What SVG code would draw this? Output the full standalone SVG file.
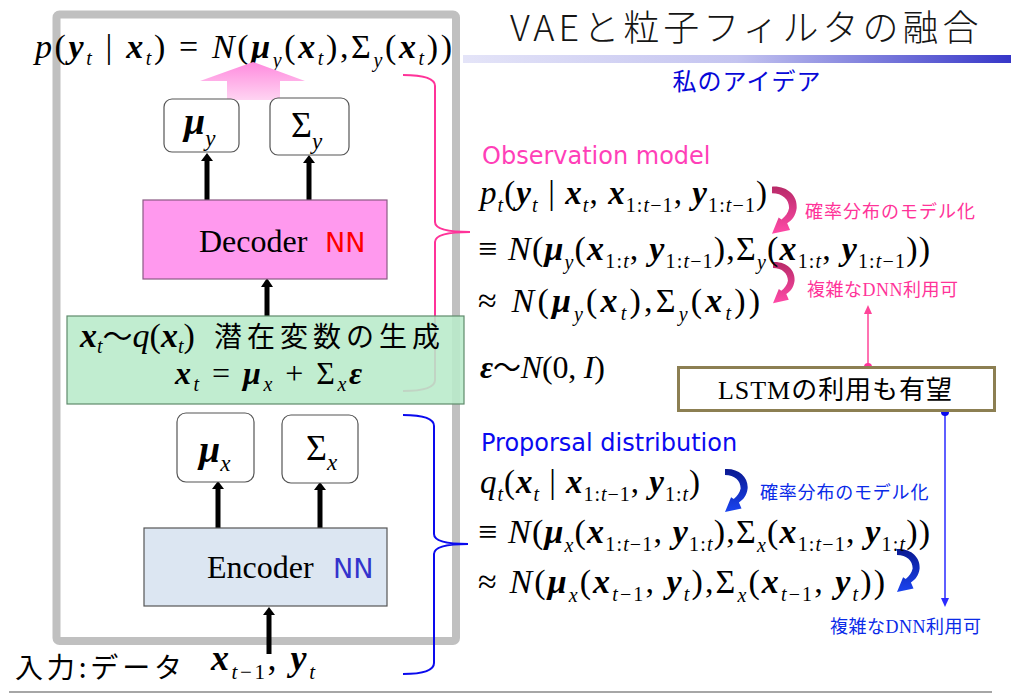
<svg xmlns="http://www.w3.org/2000/svg" width="1011" height="693" viewBox="0 0 1011 693">
<style>
.m{font-family:"Liberation Serif","Noto Sans CJK JP",serif;font-size:34px;fill:#000}
.bi{font-weight:bold;font-style:italic}
.i{font-style:italic}
.s{font-size:20px}
.jp{font-family:"Noto Sans CJK JP","Liberation Sans",sans-serif}
.lat{font-family:"DejaVu Sans","Liberation Sans",sans-serif}
.sq{fill:#fff;stroke:#555;stroke-width:1.2}
.blk{stroke:#000;stroke-width:5}
.brace{fill:none;stroke-width:2}
</style>
<defs>
<linearGradient id="bar" x1="0" y1="0" x2="1" y2="0">
<stop offset="0" stop-color="#e4e4f8"/><stop offset="0.5" stop-color="#c4c4f0"/><stop offset="1" stop-color="#3636c8"/>
</linearGradient>
<linearGradient id="bigarrow" x1="0" y1="0" x2="0" y2="1">
<stop offset="0" stop-color="#ff8ade"/><stop offset="1" stop-color="#ffd4f2"/>
</linearGradient>
<linearGradient id="pg" x1="0" y1="0" x2="0" y2="1">
<stop offset="0" stop-color="#b82a68"/><stop offset="1" stop-color="#ff4aa8"/>
</linearGradient>
<linearGradient id="bg" x1="0" y1="0" x2="0" y2="1">
<stop offset="0" stop-color="#0a1890"/><stop offset="1" stop-color="#1a44f0"/>
</linearGradient>
<path id="carrow" d="M0,-3.5 C16,-4.5 27,6 26,19 C25,27 21,32 16,35 L19,42 L0,46 L7,29 L10,31 C14,28 17,24 18,19 C18,10 11,3.5 0,3.5 Z"/>
</defs>

<!-- title -->
<g id="title">
<text x="510" y="41" class="jp" style="font-size:36px;font-weight:300;fill:#151515" letter-spacing="4">VAEと粒子フィルタの融合</text>
<rect x="463" y="55" width="548" height="8" fill="url(#bar)"/>
<text x="747" y="90" class="jp" style="font-size:24px;fill:#0808d8" text-anchor="middle" letter-spacing="1">私のアイデア</text>
</g>

<!-- outer frame -->
<rect id="frame" x="56.5" y="14.5" width="399.5" height="626.5" rx="3" fill="none" stroke="#c0c0c0" stroke-width="8"/>

<g id="topformula">
<text class="m" x="35" y="58" textLength="417" lengthAdjust="spacing"><tspan class="i">p</tspan>(<tspan class="bi">y</tspan><tspan class="s i" dy="7">t</tspan><tspan dy="-7"> | </tspan><tspan class="bi">x</tspan><tspan class="s i" dy="7">t</tspan><tspan dy="-7">) = </tspan><tspan class="i">N</tspan>(<tspan class="bi">μ</tspan><tspan class="s i" dy="9">y</tspan><tspan dy="-9">(</tspan><tspan class="bi">x</tspan><tspan class="s i" dy="7">t</tspan><tspan dy="-7">),Σ</tspan><tspan class="s i" dy="9">y</tspan><tspan dy="-9">(</tspan><tspan class="bi">x</tspan><tspan class="s i" dy="7">t</tspan><tspan dy="-7">))</tspan></text>
<polygon points="253,62 305,81 280,81 280,100 227,100 227,81 200,81" fill="url(#bigarrow)"/>
</g>

<!-- connectors -->
<g id="connectors">
<line class="blk" x1="207" y1="200" x2="207" y2="160"/><polygon points="207,153 201,161 213,161"/>
<line class="blk" x1="309" y1="200" x2="309" y2="162"/><polygon points="309,155 303,163 315,163"/>
<line class="blk" x1="267" y1="316" x2="267" y2="286"/><polygon points="267,278 261,287 273,287"/>
<line class="blk" x1="218" y1="528" x2="218" y2="488"/><polygon points="218,481 212,489 224,489"/>
<line class="blk" x1="320" y1="528" x2="320" y2="489"/><polygon points="320,482 314,490 326,490"/>
<line class="blk" x1="269" y1="654" x2="269" y2="614"/><polygon points="269,607 263,615 275,615"/>
<path class="brace" stroke="#ff3399" d="M403,75 Q435,75 435,86 L435,222 Q435,232 470,232 Q435,232 435,242 L435,380 Q435,391 403,391"/>
<path class="brace" stroke="#0a0aee" d="M403,415 Q434,415 434,426 L434,534 Q434,544 468,544 Q434,544 434,554 L434,663 Q434,674 403,674"/>
<line x1="868" y1="367" x2="868" y2="312" stroke="#ff4499" stroke-width="1.5"/>
<polygon points="868,305 864,314 872,314" fill="#ff4499"/>
<circle cx="868" cy="367" r="4" fill="#ff3399"/>
<line x1="945" y1="412" x2="945" y2="600" stroke="#2a2aff" stroke-width="1.5"/>
<polygon points="945,607 941,598 949,598" fill="#2a2aff"/>
<circle cx="945" cy="412" r="4" fill="#0a0aee"/>
<use href="#carrow" transform="translate(772,190) scale(0.95)" fill="url(#pg)"/>
<use href="#carrow" transform="translate(773,265) scale(0.83)" fill="url(#pg)"/>
<use href="#carrow" transform="translate(725,472) scale(0.87)" fill="url(#bg)"/>
<use href="#carrow" transform="translate(897,552) scale(0.87)" fill="url(#bg)"/>
</g>

<!-- nodes -->
<g id="mu_y">
<rect class="sq" x="164" y="99" width="75" height="53" rx="8"/>
<text class="m" x="184" y="134" style="font-size:38px"><tspan class="bi">μ</tspan><tspan class="i" style="font-size:23px" dy="12">y</tspan></text>
</g>
<g id="sigma_y">
<rect class="sq" x="270" y="98" width="79" height="57" rx="8"/>
<text class="m" x="291" y="137" style="font-size:36px">Σ<tspan class="i" style="font-size:23px" dy="12">y</tspan></text>
</g>
<g id="decoder">
<rect x="143" y="200" width="244" height="79" fill="#ff99ee" stroke="#8a5a84" stroke-width="1.2"/>
<text class="m" x="199" y="252" style="font-size:32px">Decoder</text>
<text class="lat" x="325" y="252" style="font-size:27px;fill:#ff0000">NN</text>
</g>
<g id="latent">
<rect x="67" y="316" width="397" height="88" fill="#b8ebca" fill-opacity="0.88" stroke="#5f8a6c" stroke-width="1.2"/>
<text class="m" x="80" y="347"><tspan class="bi">x</tspan><tspan class="i" style="font-size:20px" dy="6">t</tspan><tspan dy="-6" class="jp" style="font-size:30px">〜</tspan><tspan class="i">q</tspan>(<tspan class="bi">x</tspan><tspan class="i" style="font-size:20px" dy="6">t</tspan><tspan dy="-6">)</tspan><tspan x="214" class="jp" style="font-size:28px" letter-spacing="5">潜在変数の生成</tspan></text>
<text class="m" x="175" y="384" style="font-size:32px" textLength="187" lengthAdjust="spacing"><tspan class="bi">x</tspan><tspan class="s i" dy="7">t</tspan><tspan dy="-7"> = </tspan><tspan class="bi">μ</tspan><tspan class="s i" dy="7">x</tspan><tspan dy="-7"> + Σ</tspan><tspan class="s i" dy="7">x</tspan><tspan dy="-7" class="bi">ε</tspan></text>
</g>
<g id="mu_x">
<rect class="sq" x="177" y="413" width="77" height="69" rx="9"/>
<text class="m" x="199" y="462" style="font-size:38px"><tspan class="bi">μ</tspan><tspan class="i" style="font-size:23px" dy="9">x</tspan></text>
</g>
<g id="sigma_x">
<rect class="sq" x="282" y="415" width="76" height="68" rx="9"/>
<text class="m" x="306" y="460" style="font-size:36px">Σ<tspan class="i" style="font-size:23px" dy="10">x</tspan></text>
</g>
<g id="encoder">
<rect x="144" y="528" width="243" height="78" fill="#dce6f2" stroke="#555" stroke-width="1.2"/>
<text class="m" x="207" y="578" style="font-size:32px">Encoder</text>
<text class="lat" x="333" y="578" style="font-size:27px;fill:#3333cc">NN</text>
</g>
<g id="input">
<text class="jp" x="15" y="678" style="font-size:28px;fill:#000" textLength="167" lengthAdjust="spacing">入力:データ</text>
<text class="m" x="211" y="670" style="font-size:36px" textLength="104" lengthAdjust="spacing"><tspan class="bi">x</tspan><tspan class="i" style="font-size:21px" dy="9">t</tspan><tspan style="font-size:21px">−1</tspan><tspan dy="-9">, </tspan><tspan class="bi">y</tspan><tspan class="i" style="font-size:21px" dy="9">t</tspan></text>
</g>

<!-- observation model -->
<g id="observation">
<text class="lat" x="482" y="164" style="font-size:24px;fill:#ff3fb8">Observation model</text>
<text class="m" x="480" y="204" style="font-size:33px" textLength="287" lengthAdjust="spacing"><tspan class="i">p</tspan><tspan class="s i" dy="8">t</tspan><tspan dy="-8">(</tspan><tspan class="bi">y</tspan><tspan class="s i" dy="8">t</tspan><tspan dy="-8"> | </tspan><tspan class="bi">x</tspan><tspan class="s i" dy="8">t</tspan><tspan dy="-8">, </tspan><tspan class="bi">x</tspan><tspan class="s" dy="8">1:<tspan class="i">t</tspan>−1</tspan><tspan dy="-8">, </tspan><tspan class="bi">y</tspan><tspan class="s" dy="8">1:<tspan class="i">t</tspan>−1</tspan><tspan dy="-8">)</tspan></text>
<text class="jp" x="805" y="218" style="font-size:18px;fill:#ff3399" letter-spacing="1">確率分布のモデル化</text>
<text class="m" x="478" y="260" textLength="452" lengthAdjust="spacing">≡ <tspan class="i">N</tspan>(<tspan class="bi">μ</tspan><tspan class="s i" dy="9">y</tspan><tspan dy="-9">(</tspan><tspan class="bi">x</tspan><tspan class="s" dy="8">1:<tspan class="i">t</tspan></tspan><tspan dy="-8">, </tspan><tspan class="bi">y</tspan><tspan class="s" dy="8">1:<tspan class="i">t</tspan>−1</tspan><tspan dy="-8">),Σ</tspan><tspan class="s i" dy="9">y</tspan><tspan dy="-9">(</tspan><tspan class="bi">x</tspan><tspan class="s" dy="8">1:<tspan class="i">t</tspan></tspan><tspan dy="-8">, </tspan><tspan class="bi">y</tspan><tspan class="s" dy="8">1:<tspan class="i">t</tspan>−1</tspan><tspan dy="-8">))</tspan></text>
<text class="m" x="807" y="296" style="font-size:18px;fill:#ff3399" letter-spacing="0.5">複雑なDNN利用可</text>
<text class="m" x="478" y="312" textLength="282" lengthAdjust="spacing">≈ <tspan class="i">N</tspan>(<tspan class="bi">μ</tspan><tspan class="s i" dy="9">y</tspan><tspan dy="-9">(</tspan><tspan class="bi">x</tspan><tspan class="s i" dy="8">t</tspan><tspan dy="-8">),Σ</tspan><tspan class="s i" dy="9">y</tspan><tspan dy="-9">(</tspan><tspan class="bi">x</tspan><tspan class="s i" dy="8">t</tspan><tspan dy="-8">))</tspan></text>
<text class="m" x="480" y="378" style="font-size:32px" textLength="125" lengthAdjust="spacing"><tspan class="bi">ε</tspan><tspan class="jp" style="font-size:28px">〜</tspan><tspan class="i">N</tspan>(0, <tspan class="i">I</tspan>)</text>
</g>

<g id="lstm">
<rect x="678.5" y="367.5" width="316" height="43" fill="#fff" stroke="#8c7f52" stroke-width="3"/>
<text class="m" x="718" y="399" style="font-size:26px" textLength="234" lengthAdjust="spacing">LSTMの利用も有望</text>
</g>

<!-- proposal distribution -->
<g id="proposal">
<text class="lat" x="481" y="451" style="font-size:24px;fill:#0a0af0">Proporsal distribution</text>
<text class="m" x="480" y="493" style="font-size:33px" textLength="220" lengthAdjust="spacing"><tspan class="i">q</tspan><tspan class="s i" dy="8">t</tspan><tspan dy="-8">(</tspan><tspan class="bi">x</tspan><tspan class="s i" dy="8">t</tspan><tspan dy="-8"> | </tspan><tspan class="bi">x</tspan><tspan class="s" dy="8">1:<tspan class="i">t</tspan>−1</tspan><tspan dy="-8">, </tspan><tspan class="bi">y</tspan><tspan class="s" dy="8">1:<tspan class="i">t</tspan></tspan><tspan dy="-8">)</tspan></text>
<text class="jp" x="760" y="499" style="font-size:18px;fill:#0a2ae8" letter-spacing="0.8">確率分布のモデル化</text>
<text class="m" x="478" y="543" textLength="452" lengthAdjust="spacing">≡ <tspan class="i">N</tspan>(<tspan class="bi">μ</tspan><tspan class="s i" dy="9">x</tspan><tspan dy="-9">(</tspan><tspan class="bi">x</tspan><tspan class="s" dy="8">1:<tspan class="i">t</tspan>−1</tspan><tspan dy="-8">, </tspan><tspan class="bi">y</tspan><tspan class="s" dy="8">1:<tspan class="i">t</tspan></tspan><tspan dy="-8">),Σ</tspan><tspan class="s i" dy="9">x</tspan><tspan dy="-9">(</tspan><tspan class="bi">x</tspan><tspan class="s" dy="8">1:<tspan class="i">t</tspan>−1</tspan><tspan dy="-8">, </tspan><tspan class="bi">y</tspan><tspan class="s" dy="8">1:<tspan class="i">t</tspan></tspan><tspan dy="-8">))</tspan></text>
<text class="m" x="478" y="593" textLength="407" lengthAdjust="spacing">≈ <tspan class="i">N</tspan>(<tspan class="bi">μ</tspan><tspan class="s i" dy="9">x</tspan><tspan dy="-9">(</tspan><tspan class="bi">x</tspan><tspan class="s" dy="8"><tspan class="i">t</tspan>−1</tspan><tspan dy="-8">, </tspan><tspan class="bi">y</tspan><tspan class="s i" dy="8">t</tspan><tspan dy="-8">),Σ</tspan><tspan class="s i" dy="9">x</tspan><tspan dy="-9">(</tspan><tspan class="bi">x</tspan><tspan class="s" dy="8"><tspan class="i">t</tspan>−1</tspan><tspan dy="-8">, </tspan><tspan class="bi">y</tspan><tspan class="s i" dy="8">t</tspan><tspan dy="-8">))</tspan></text>
<text class="m" x="830" y="633" style="font-size:18px;fill:#0a2ae8" letter-spacing="0.5">複雑なDNN利用可</text>
</g>

<line id="bottomline" x1="9" y1="692" x2="992" y2="692" stroke="#888" stroke-width="1.5"/>
</svg>
